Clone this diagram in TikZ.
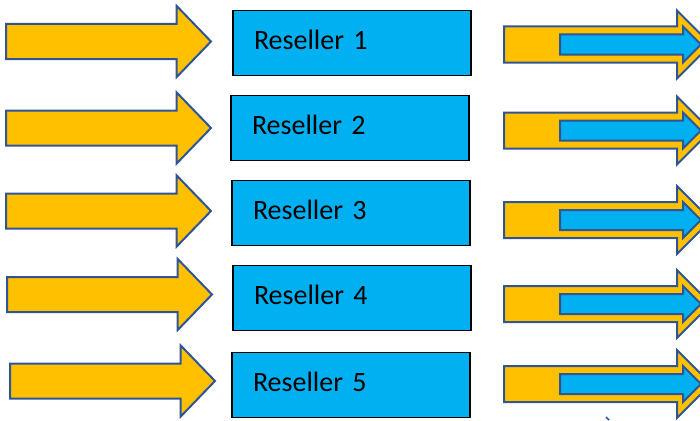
\documentclass[tikz,border=0pt]{standalone}
\usepackage{fontspec}
\setmainfont{Carlito}
\usetikzlibrary{shapes.arrows}
\definecolor{gold}{HTML}{FFC000}
\definecolor{sky}{HTML}{00B0F0}
\definecolor{navy}{HTML}{2F5597}
\begin{document}
\begin{tikzpicture}[x=1pt,y=-1pt,
  feedarrow/.style={single arrow,draw=navy,fill=gold,line width=2pt,
    inner xsep=0pt,inner ysep=16.5pt,minimum height=205pt,
    single arrow head extend=18pt,single arrow tip angle=92,anchor=tail},
  salearrow/.style={single arrow,draw=navy,fill=gold,line width=2pt,
    inner xsep=0pt,inner ysep=17pt,minimum height=207pt,
    single arrow head extend=16pt,single arrow tip angle=90,anchor=tail},
  saleinner/.style={single arrow,draw=navy,fill=sky,line width=2pt,
    inner xsep=0pt,inner ysep=9pt,minimum height=141pt,
    single arrow head extend=8pt,single arrow tip angle=90,anchor=tail},
  resbox/.style={draw=black,fill=sky,line width=1.8pt,minimum height=65pt,
    text width=196pt,inner xsep=21pt,align=left,text depth=6pt,
    font=\fontsize{28}{34}\selectfont}]
\clip (0,0) rectangle (700,420);
% incoming arrows
\node[feedarrow] (feed1) at (5,41.5) {};
\node[feedarrow] (feed2) at (5,128) {};
\node[feedarrow] (feed3) at (5,211) {};
\node[feedarrow] (feed4) at (6,294.5) {};
\node[feedarrow] (feed5) at (9,381) {};
% resellers
\node[resbox] (res1) at (352,43) {Reseller 1};
\node[resbox] (res2) at (350,128) {Reseller 2};
\node[resbox] (res3) at (351,213) {Reseller 3};
\node[resbox] (res4) at (352,298) {Reseller 4};
\node[resbox] (res5) at (351,385) {Reseller 5};
% outgoing arrows
\node[salearrow] (sale1) at (503,44.5) {};
\node[saleinner] (core1) at (559,44.5) {};
\node[salearrow] (sale2) at (503,130.5) {};
\node[saleinner] (core2) at (559,130.5) {};
\node[salearrow] (sale3) at (503,220) {};
\node[saleinner] (core3) at (559,220) {};
\node[salearrow] (sale4) at (503,304) {};
\node[saleinner] (core4) at (559,304) {};
\node[salearrow] (sale5) at (503,384) {};
\node[saleinner] (core5) at (559,384) {};
\draw[navy,line width=1.5pt] (606,417) -- (609,420);
\end{tikzpicture}
\end{document}
